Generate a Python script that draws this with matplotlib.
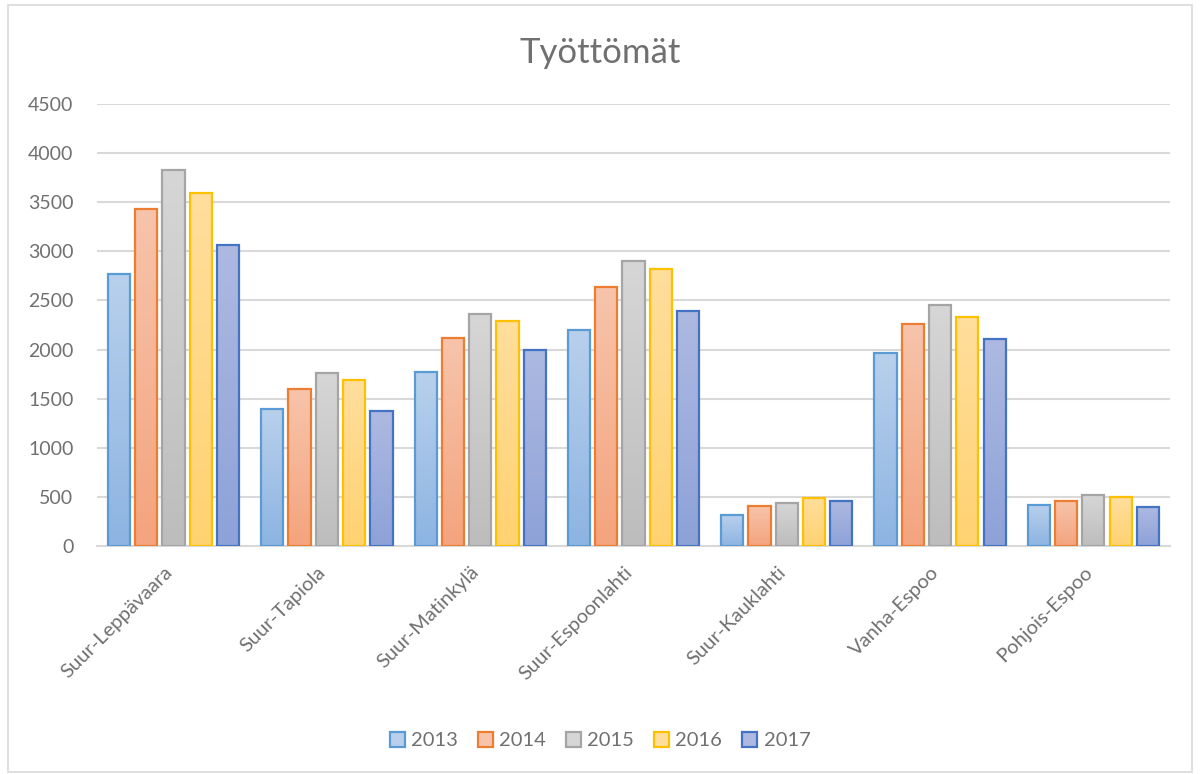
import matplotlib
matplotlib.use("Agg")
import matplotlib.pyplot as plt
import matplotlib.transforms as mtrans
import numpy as np
from matplotlib.colors import LinearSegmentedColormap
from matplotlib.patches import Rectangle, Patch

plt.rcParams['font.family'] = ['Lato', 'DejaVu Sans']

title = "Työttömät"
categories = ["Suur-Leppävaara", "Suur-Tapiola", "Suur-Matinkylä", "Suur-Espoonlahti",
              "Suur-Kauklahti", "Vanha-Espoo", "Pohjois-Espoo"]
years = ["2013", "2014", "2015", "2016", "2017"]
v2013 = [2770, 1390, 1770, 2200, 315, 1960, 420]
v2014 = [3435, 1600, 2120, 2640, 410, 2265, 460]
v2015 = [3830, 1760, 2365, 2900, 440, 2455, 515]
v2016 = [3595, 1690, 2290, 2825, 490, 2330, 495]
v2017 = [3065, 1370, 2000, 2390, 460, 2110, 400]
series = [v2013, v2014, v2015, v2016, v2017]
yticks = [0, 500, 1000, 1500, 2000, 2500, 3000, 3500, 4000, 4500]

edge_colors = ["#5b9bd5", "#ed7d31", "#a5a5a5", "#ffc000", "#4472c4"]
top_colors = ["#b8d0ec", "#f7c4ab", "#d6d6d6", "#ffde9c", "#adb9e1"]
bot_colors = ["#8db4e2", "#f4a47e", "#bdbdbd", "#ffd271", "#8ea2d8"]
text_color = "#707070"
grid_color = "#d9d9d9"

fig = plt.figure(figsize=(12, 7.74), dpi=100)
ax = fig.add_axes([0.0808, 0.2946, 0.8942, 0.571])

x = np.arange(len(categories))
slot = 0.178
width = 0.145
for i, vals in enumerate(series):
    offs = (i - 2) * slot
    bars = ax.bar(x + offs, vals, width=width, facecolor='none',
                  edgecolor=edge_colors[i], linewidth=1.6, zorder=3, label=years[i])
    cmap = LinearSegmentedColormap.from_list(f"g{i}", [bot_colors[i], top_colors[i]])
    grad = np.linspace(0, 1, 64).reshape(-1, 1)
    for b in bars:
        x0, w, h = b.get_x(), b.get_width(), b.get_height()
        ax.imshow(grad, extent=[x0, x0 + w, 0, h], origin='lower', aspect='auto',
                  cmap=cmap, zorder=2.5, interpolation='bilinear')

ax.set_xlim(-0.5, len(categories) - 0.5)
ax.set_ylim(0, 4500)
ax.set_yticks(yticks)
ax.set_yticklabels([str(t) for t in yticks])
ax.set_xticks(x)
ax.set_xticklabels(categories, rotation=45, ha='right', va='center', rotation_mode='anchor')
ax.tick_params(axis='y', length=0, pad=17, labelsize=14, labelcolor=text_color)
ax.tick_params(axis='x', length=0, pad=14, labelsize=14.5, labelcolor=text_color)
shift = mtrans.ScaledTranslation(-4 / 100, -4 / 100, fig.dpi_scale_trans)
for lbl in ax.get_xticklabels():
    lbl.set_transform(lbl.get_transform() + shift)
ax.grid(axis='y', color=grid_color, linewidth=1.5, zorder=0)
ax.set_axisbelow(True)
for s in ['top', 'right', 'left']:
    ax.spines[s].set_visible(False)
ax.spines['bottom'].set_color(grid_color)
ax.spines['bottom'].set_linewidth(1.5)

fig.text(0.5, 0.932, title, ha='center', va='center', fontsize=25, color=text_color)

handles = [Patch(facecolor=(top_colors[i]), edgecolor=edge_colors[i], linewidth=1.6)
           for i in range(5)]
fig.legend(handles, years, loc='center', bbox_to_anchor=(0.5, 0.043), ncol=5,
           frameon=False, fontsize=14.5, labelcolor=text_color, handlelength=0.75,
           handleheight=0.75, handletextpad=0.3, columnspacing=1.0)

fig.patches.append(Rectangle((0.007, 0.003), 0.986, 0.99, transform=fig.transFigure,
                             fill=False, edgecolor='#d9d9d9', linewidth=1.2))

fig.savefig("out.png", dpi=100)
